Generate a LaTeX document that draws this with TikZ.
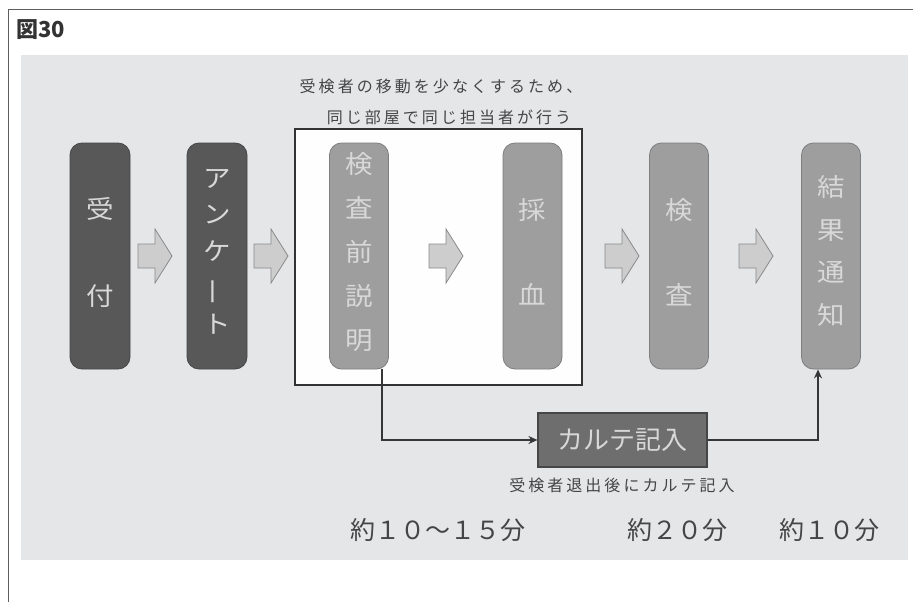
\documentclass[tikz,border=0pt]{standalone}
\usepackage{fontspec}
\setmainfont{Noto Sans CJK JP}
\newfontfamily\spacedjp[LetterSpace=19]{Noto Sans CJK JP}
\newfontfamily\widejp[FakeStretch=1.1]{Noto Sans CJK JP}
\usetikzlibrary{arrows.meta}
\definecolor{framecol}{HTML}{5E5E5E}
\definecolor{panelcol}{HTML}{E4E6E8}
\definecolor{darkfill}{HTML}{585858}
\definecolor{darkedge}{HTML}{464646}
\definecolor{midfill}{HTML}{9E9E9E}
\definecolor{midedge}{HTML}{7E7E7E}
\definecolor{arrfill}{HTML}{CDCDCD}
\definecolor{arredge}{HTML}{8A8A8A}
\definecolor{textgray}{HTML}{454545}
\definecolor{lighttext}{HTML}{D8D8D8}
\definecolor{connector}{HTML}{363636}
\definecolor{kartefill}{HTML}{6E6E6E}
\tikzset{
  stepdark/.style={draw=darkedge, fill=darkfill, rounded corners=12pt, line width=0.8pt,
    minimum width=60pt, minimum height=226pt, inner sep=0pt},
  stepmid/.style={draw=midedge, fill=midfill, rounded corners=12pt, line width=0.8pt,
    minimum width=59pt, minimum height=226pt, inner sep=0pt},
  boxtext/.style={text=lighttext, font=\widejp\fontsize{25}{#1}\selectfont, align=center, inner sep=0pt},
  notetext/.style={text=textgray, font=\spacedjp\fontsize{16}{20}\selectfont, inner sep=0pt},
  timetext/.style={text=textgray, font=\fontsize{25}{30}\selectfont, inner sep=0pt},
  conn/.style={draw=connector, line width=1.5pt, -{Stealth[length=9pt,width=8pt]}},
  barrow/.pic={\draw[fill=arrfill, draw=arredge, line width=0.8pt, line join=miter]
     (-17,-12) -- (0,-12) -- (0,-27) -- (17,0) -- (0,27) -- (0,12) -- (-17,12) -- cycle;}
}
\begin{document}
\begin{tikzpicture}[x=1pt,y=-1pt]
\useasboundingbox (0,0) rectangle (913,602);
% outer frame
\draw[framecol, line width=1.6pt] (8.5,602) -- (8.5,9.5) -- (913,9.5);
\node[anchor=west, inner sep=0pt, text=black!80, font=\bfseries\fontsize{22}{26}\selectfont] (title) at (16,30) {図30};
% panel
\fill[panelcol] (21,55) rectangle (908,560);
% room box
\node[draw=black!80, fill=white!97!panelcol, line width=1.2pt, minimum width=287pt, minimum height=256pt, inner sep=0pt] (room) at (438.5,257) {};
\node[notetext] (note1) at (441,86) {受検者の移動を少なくするため、};
\node[notetext] (note2) at (449,117) {同じ部屋で同じ担当者が行う};
% steps
\node[stepdark] (uk) at (100,256) {};
\node[stepdark] (an) at (217,256) {};
\node[stepmid] (kz) at (359,256) {};
\node[stepmid] (sk) at (532.5,256) {};
\node[stepmid] (ks) at (679,256) {};
\node[stepmid] (kt) at (831,256) {};
\node[boxtext=87] (ukT) at (100,252) {受\\付};
\node[boxtext=36.5] (anT) at (217,251.5) {ア\\ン\\ケ\\\rotatebox[origin=c]{90}{ー}\\ト};
\node[boxtext=44] (kzT) at (359,252) {検\\査\\前\\説\\明};
\node[boxtext=85] (skT) at (532.5,252) {採\\血};
\node[boxtext=85] (ksT) at (679,252) {検\\査};
\node[boxtext=42.5] (ktT) at (831,251) {結\\果\\通\\知};
% block arrows
\pic (a1) at (155,256) {barrow};
\pic (a2) at (271,256) {barrow};
\pic (a3) at (446,256) {barrow};
\pic (a4) at (622,256) {barrow};
\pic (a5) at (756,256) {barrow};
% karte
\node[draw=darkedge, fill=kartefill, line width=1.2pt, minimum width=169pt, minimum height=54pt, inner sep=0pt,
  text=lighttext, font=\fontsize{26}{30}\selectfont] (karte) at (622.5,440) {カルテ記入};
\draw[conn] ([xshift=23pt]kz.south) |- (karte.west);
\draw[conn] (karte.east) -| ([xshift=-13pt]kt.south);
\node[notetext] (note3) at (622,485) {受検者退出後にカルテ記入};
% times
\node[timetext] (t1) at (438,530) {約１０〜１５分};
\node[timetext] (t2) at (677,530) {約２０分};
\node[timetext] (t3) at (829,530) {約１０分};
\end{tikzpicture}
\end{document}
